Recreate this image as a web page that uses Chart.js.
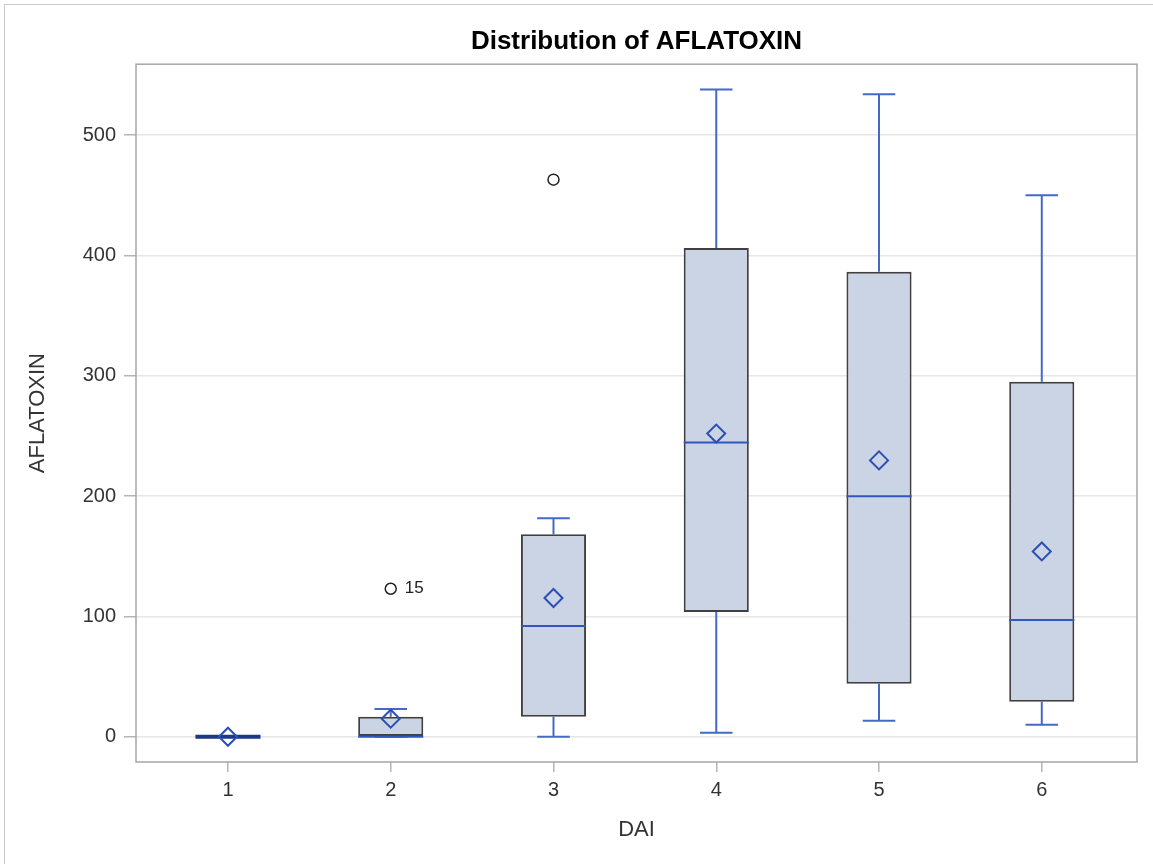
<!DOCTYPE html>
<html>
<head>
<meta charset="utf-8">
<script src="https://cdn.jsdelivr.net/npm/chart.js@4.4.1/dist/chart.umd.min.js"></script>
<style>
  html, body { margin: 0; padding: 0; background: #fff; }
  #wrap { position: relative; width: 1153px; height: 864px; overflow: hidden; }
  #outer { position: absolute; left: 4px; top: 4px; width: 1200px; height: 900px; border: 1px solid #c9c9c9; }
  #chart { position: absolute; left: 0; top: 0; }
</style>
</head>
<body>
<div id="wrap">
  <div id="outer"></div>
  <canvas id="chart" width="1153" height="864"></canvas>
</div>
<script>
// DAI groups
const categories = [1, 2, 3, 4, 5, 6];
const q1Values = [0, 0, 16.6, 103.6, 44, 29];
const q3Values = [0, 16.6, 168.3, 406.3, 386.4, 295];
const medianValues = [0, 0, 92, 244.6, 199.8, 97];
const whiskerLow = [0, 0, 0, 3.3, 13.3, 10];
const whiskerHigh = [0, 23, 181.6, 538, 534, 450];
const meanValues = [0, 15, 115.3, 252, 229.7, 154];
const outlierX = [2, 3];
const outlierY = [123, 463];
const outlierLabels = ['15', ''];
const yTicks = [0, 100, 200, 300, 400, 500];

const fontFamily = '"Liberation Sans", Arial, sans-serif';

// line segments for whiskers, caps and medians (null breaks the line)
const whiskerPts = [];
categories.forEach((c, i) => {
    whiskerPts.push({x: c, y: q3Values[i]}, {x: c, y: whiskerHigh[i]}, {x: c, y: null});
    whiskerPts.push({x: c - 0.1, y: whiskerHigh[i]}, {x: c + 0.1, y: whiskerHigh[i]}, {x: c, y: null});
    whiskerPts.push({x: c, y: q1Values[i]}, {x: c, y: whiskerLow[i]}, {x: c, y: null});
    whiskerPts.push({x: c - 0.1, y: whiskerLow[i]}, {x: c + 0.1, y: whiskerLow[i]}, {x: c, y: null});
});
const medianPts = [];
categories.forEach((c, i) => {
    medianPts.push({x: c - 0.2, y: medianValues[i]}, {x: c + 0.2, y: medianValues[i]}, {x: c, y: null});
});

// a box with no height collapses to its border + median: draw it darker/thicker
const flatBox = idx => {
    const i = Math.floor(idx / 3);
    return q1Values[i] === q3Values[i];
};

const framePlugin = {
    id: 'frame',
    afterDatasetsDraw(chart) {
        const {ctx, chartArea: a} = chart;
        ctx.save();
        ctx.strokeStyle = '#a6a6a6';
        ctx.lineWidth = 1.5;
        ctx.strokeRect(a.left, a.top, a.right - a.left, a.bottom - a.top);
        ctx.restore();
    }
};

const outlierLabelPlugin = {
    id: 'outlierLabels',
    afterDatasetsDraw(chart) {
        const {ctx, scales} = chart;
        ctx.save();
        ctx.font = '17px ' + fontFamily;
        ctx.fillStyle = '#222';
        ctx.textBaseline = 'middle';
        outlierLabels.forEach((t, i) => {
            if (!t) return;
            ctx.fillText(t, scales.x.getPixelForValue(outlierX[i]) + 14, scales.y.getPixelForValue(outlierY[i]));
        });
        ctx.restore();
    }
};

new Chart(document.getElementById('chart'), {
    type: 'bar',
    data: {
        datasets: [
            {
                type: 'scatter',
                data: meanValues.map((m, i) => ({x: categories[i], y: m})),
                pointStyle: 'rectRot',
                pointRadius: 9,
                borderColor: '#2b4fb5',
                backgroundColor: 'rgba(0,0,0,0)',
                borderWidth: 2,
                order: 0
            },
            {
                type: 'scatter',
                data: outlierX.map((x, i) => ({x: x, y: outlierY[i]})),
                pointStyle: 'circle',
                pointRadius: 5.5,
                borderColor: '#222',
                backgroundColor: 'rgba(0,0,0,0)',
                borderWidth: 1.5,
                order: 0
            },
            {
                type: 'scatter',
                data: medianPts,
                showLine: true,
                borderColor: '#2f57bf',
                borderWidth: 2,
                pointRadius: 0,
                segment: {
                    borderColor: ctx => flatBox(ctx.p0DataIndex) ? '#1d3886' : undefined,
                    borderWidth: ctx => flatBox(ctx.p0DataIndex) ? 4 : undefined
                },
                order: 1
            },
            {
                type: 'bar',
                data: categories.map((c, i) => ({x: c, y: [q1Values[i], q3Values[i]]})),
                backgroundColor: '#cad4e4',
                borderColor: '#404040',
                borderWidth: 2,
                borderSkipped: false,
                categoryPercentage: 0.8,
                barPercentage: 0.5,
                order: 2
            },
            {
                type: 'scatter',
                data: whiskerPts,
                showLine: true,
                borderColor: '#4469c9',
                borderWidth: 2,
                pointRadius: 0,
                order: 3
            }
        ]
    },
    options: {
        responsive: false,
        animation: false,
        layout: { padding: { left: 0, right: 16, top: 0, bottom: 0 } },
        plugins: {
            legend: { display: false },
            tooltip: { enabled: false },
            title: {
                display: true,
                fullSize: false,
                text: 'Distribution of AFLATOXIN',
                color: '#000',
                font: { family: fontFamily, size: 26, weight: 'bold' },
                padding: { top: 26, bottom: 7 }
            }
        },
        scales: {
            x: {
                type: 'linear',
                min: 0.435,
                max: 6.585,
                offset: false,
                afterBuildTicks: axis => { axis.ticks = categories.map(v => ({value: v})); },
                afterFit: scale => { scale.height = 102; },
                border: { display: false },
                grid: { offset: false, drawOnChartArea: false, drawTicks: true, tickLength: 10, tickColor: '#b4b4b4', lineWidth: 1.5 },
                ticks: { color: '#333', padding: 6, font: { family: fontFamily, size: 20 } },
                title: { display: true, text: 'DAI', color: '#333', font: { family: fontFamily, size: 22 }, padding: { top: 0, bottom: 21 } }
            },
            y: {
                type: 'linear',
                min: -21,
                max: 559,
                afterBuildTicks: axis => { axis.ticks = yTicks.map(v => ({value: v})); },
                afterFit: scale => { scale.width = 136; },
                border: { display: false },
                grid: { color: '#e6e6e6', lineWidth: 1.5, tickLength: 12, tickColor: '#b4b4b4' },
                ticks: { color: '#333', padding: 8, font: { family: fontFamily, size: 20 } },
                title: { display: true, text: 'AFLATOXIN', color: '#333', font: { family: fontFamily, size: 22 }, padding: { top: 25, bottom: 0 } }
            }
        }
    },
    plugins: [framePlugin, outlierLabelPlugin]
});
</script>
</body>
</html>
